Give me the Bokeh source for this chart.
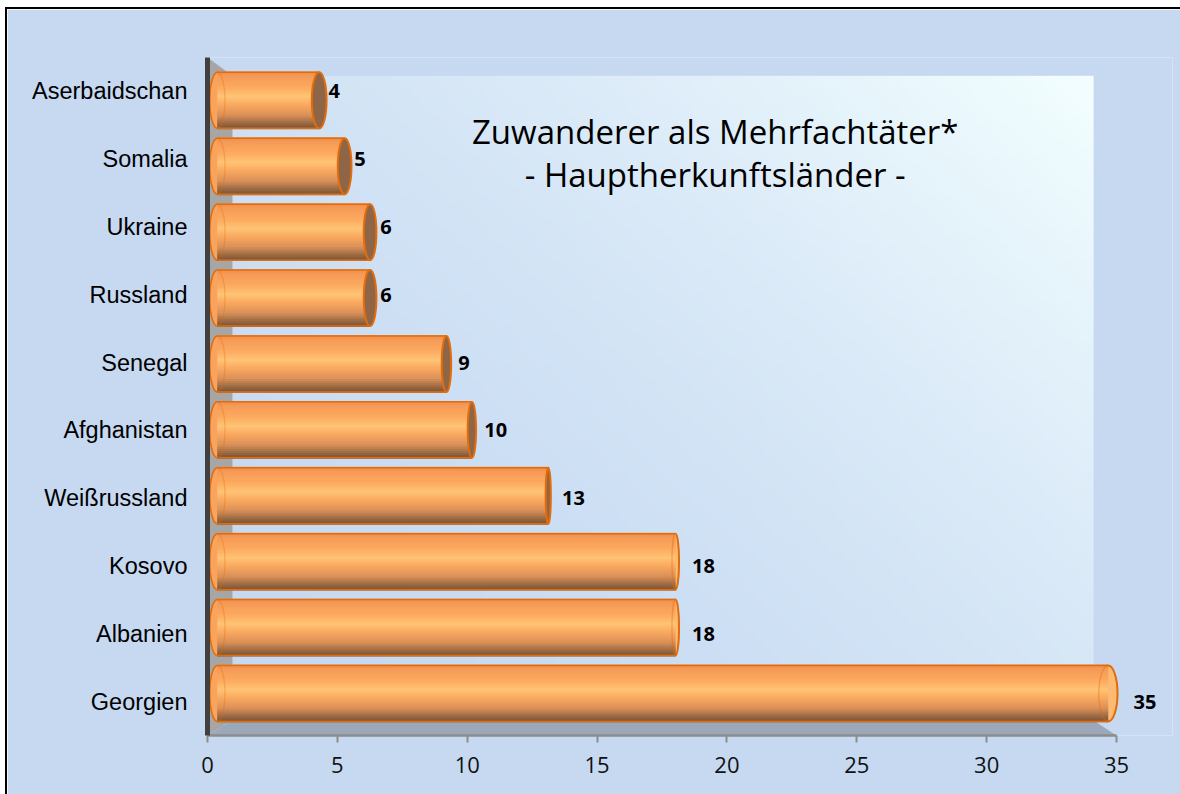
import numpy as np
from bokeh.plotting import figure
from bokeh.models import ColumnDataSource, Range1d, FixedTicker, Label
from bokeh.core.properties import value
from bokeh.embed import file_html
from bokeh.resources import INLINE

# ---------------- data ----------------
countries = ["Aserbaidschan", "Somalia", "Ukraine", "Russland", "Senegal",
             "Afghanistan", "Weißrussland", "Kosovo", "Albanien", "Georgien"]
counts = [4, 5, 6, 6, 9, 10, 13, 18, 18, 35]
x_ticks = [0, 5, 10, 15, 20, 25, 30, 35]
title_line1 = "Zuwanderer als Mehrfachtäter*"
title_line2 = "- Hauptherkunftsländer -"

# ---------------- layout constants ----------------
W, H = 1173, 785
LEFT, TOP = 200, 48
FRAME_H = 678
X_MAX = 35
PX = 25.971                       # pixels per x unit
FRAME_W = W - LEFT - 8
X_END = FRAME_W / PX
N = len(countries)

# 3D depth offsets (perspective of the bars / walls)
BAR_X0, BAR_XS = 0.38, 0.98
BAR_Y0, BAR_YS = 0.62, 0.972
BAR_H = 0.826
WALL_DX, WALL_DY = 0.96, 0.22
WALL_TOP = N - 0.27
VP = 15.13                        # vanishing point (x units)

BG = "#C6D9F1"
ORANGE = "#E46C0A"

p = figure(frame_width=FRAME_W, frame_height=FRAME_H,
           min_border_left=LEFT, min_border_right=8, min_border_top=TOP,
           min_border_bottom=H - TOP - FRAME_H,
           x_range=Range1d(0, X_END), y_range=Range1d(0, N),
           output_backend="svg", toolbar_location=None,
           background_fill_color=BG, border_fill_color=BG,
           outline_line_color=None)
p.styles = {"border-top": "2px solid #000", "border-left": "2px solid #000",
            "margin-left": "5px", "margin-top": "7px"}
p.xgrid.visible = False
p.ygrid.visible = False

# ---------------- back wall gradient ----------------
gw, gh = 120, 80
u = np.linspace(0, 1, gw)[None, :]
v = np.linspace(0, 1, gh)[:, None]
t = np.clip((u * 0.55 + v * 0.45), 0, 1) ** 1.8
cA = np.array([0xC6, 0xD9, 0xF2], dtype=float)
cB = np.array([0xF3, 0xFF, 0xFF], dtype=float)
img = np.empty((gh, gw), dtype=np.uint32)
view = img.view(dtype=np.uint8).reshape((gh, gw, 4))
for k in range(3):
    view[:, :, k] = (cA[k] + (cB[k] - cA[k]) * t).astype(np.uint8)
view[:, :, 3] = 255
p.image_rgba(image=[img], x=WALL_DX, y=WALL_DY, dw=X_MAX - 0.88 - WALL_DX,
             dh=WALL_TOP - WALL_DY)

# left wall and floor
p.patch([0, WALL_DX, WALL_DX, 0], [N, WALL_TOP, WALL_DY, 0],
        fill_color="#A6A6A6", line_color=None)
p.patch([0, X_MAX, X_MAX - 0.88, WALL_DX], [0, 0, WALL_DY, WALL_DY],
        fill_color="#9AA8BA", line_color=None)

# ---------------- bars (cylinders) ----------------
stops = [(0.0, "#EC8A46"), (0.08, "#F59A58"), (0.28, "#FCA95E"),
         (0.45, "#FFC476"), (0.6, "#F9A85E"), (0.78, "#DA9058"),
         (0.92, "#9C6B44"), (1.0, "#7E5838")]


def hex2rgb(h):
    return np.array([int(h[i:i + 2], 16) for i in (1, 3, 5)], dtype=float)


def grad(tt):
    for (t0, c0), (t1, c1) in zip(stops[:-1], stops[1:]):
        if t0 <= tt <= t1:
            f = (tt - t0) / (t1 - t0)
            c = hex2rgb(c0) + (hex2rgb(c1) - hex2rgb(c0)) * f
            return "#%02x%02x%02x" % tuple(int(round(x)) for x in c)
    return stops[-1][1]


idx = [N - 1 - k for k in range(N)]           # 0 = bottom
bar_y = [BAR_Y0 + i * BAR_YS for i in idx]
bar_x0 = [BAR_X0] * N
bar_x1 = [BAR_X0 + BAR_XS * c for c in counts]


def cap_convex(xb):
    return (5 + 0.027 * abs(xb - VP) * PX) / PX


def cap_face(xb):
    return (3 + 0.042 * abs(xb - VP) * PX) / PX


convex = [x > VP for x in bar_x1]
left_w = [cap_convex(x) for x in bar_x0]
right_w = [cap_convex(x) if c else cap_face(x) for x, c in zip(bar_x1, convex)]

# left convex ends (under the body)
p.ellipse(x=bar_x0, y=bar_y, width=left_w, height=BAR_H,
          fill_color="#F9A45E", line_color=ORANGE, line_width=1.5)
# right convex ends for bars beyond vanishing point
cx = [x for x, c in zip(bar_x1, convex) if c]
cy = [y for y, c in zip(bar_y, convex) if c]
cw = [w for w, c in zip(right_w, convex) if c]
p.ellipse(x=cx, y=cy, width=cw, height=BAR_H,
          fill_color="#FDBA72", line_color=ORANGE, line_width=2)

NS = 28
sy, sl, sr, sc = [], [], [], []
for y, a, b in zip(bar_y, bar_x0, bar_x1):
    for s in range(NS):
        tt = (s + 0.5) / NS
        sy.append(y + BAR_H / 2 - tt * BAR_H)
        sl.append(a)
        sr.append(b)
        sc.append(grad(tt))
p.hbar(y=sy, left=sl, right=sr, height=BAR_H / NS * 1.9,
       fill_color=sc, line_color=None)

# top / bottom rims
p.segment(x0=bar_x0, x1=bar_x1, y0=[y + BAR_H / 2 for y in bar_y],
          y1=[y + BAR_H / 2 for y in bar_y], line_color=ORANGE, line_width=1.5)
p.segment(x0=bar_x0, x1=bar_x1, y0=[y - BAR_H / 2 for y in bar_y],
          y1=[y - BAR_H / 2 for y in bar_y], line_color=ORANGE, line_width=1.5)

# faint inner rims
p.ellipse(x=bar_x0, y=bar_y, width=left_w, height=BAR_H,
          fill_color=None, line_color=ORANGE, line_alpha=0.35, line_width=1.2)
p.ellipse(x=cx, y=cy, width=cw, height=BAR_H,
          fill_color=None, line_color=ORANGE, line_alpha=0.45, line_width=1.2)

# visible end faces for bars before the vanishing point
fx = [x for x, c in zip(bar_x1, convex) if not c]
fy = [y for y, c in zip(bar_y, convex) if not c]
fw = [w for w, c in zip(right_w, convex) if not c]
p.ellipse(x=fx, y=fy, width=fw, height=BAR_H,
          fill_color="#8E6647", line_color=ORANGE, line_width=2)

# ---------------- value labels ----------------
lab = ColumnDataSource(dict(x=counts, y=[i + 0.5 for i in idx],
                            t=[str(c) for c in counts]))
p.text(x="x", y="y", text="t", source=lab, x_offset=17,
       text_align="left", text_baseline="middle",
       text_font=value("Open Sans"), text_font_style="bold",
       text_font_size="20px", text_color="#000000")

# ---------------- title ----------------
for txt, yy in ((title_line1, 8.91), (title_line2, 8.27)):
    p.add_layout(Label(x=19.55, y=yy, text=txt, text_align="center",
                       text_baseline="middle", text_font="Open Sans",
                       text_font_size="33px", text_color="#000000"))

# ---------------- axes ----------------
xa = p.xaxis[0]
xa.ticker = FixedTicker(ticks=x_ticks)
xa.bounds = (0, X_MAX)
xa.axis_line_color = "#8C8C8C"
xa.axis_line_width = 2.5
xa.major_tick_line_color = "#8C8C8C"
xa.major_tick_line_width = 2
xa.major_tick_out = 7
xa.major_tick_in = 0
xa.minor_tick_line_color = None
xa.major_label_standoff = 14
xa.major_label_text_font = "Open Sans"
xa.major_label_text_font_size = "22px"
xa.major_label_text_color = "#111111"

ya = p.yaxis[0]
ya.ticker = FixedTicker(ticks=[i + 0.5 for i in range(N)])
ya.major_label_overrides = {i + 0.5: countries[N - 1 - i] for i in range(N)}
ya.bounds = (0, N)
ya.axis_line_color = "#404040"
ya.axis_line_width = 5
ya.major_tick_line_color = None
ya.minor_tick_line_color = None
ya.major_label_standoff = 14
ya.major_label_text_font = "Liberation Sans"
ya.major_label_text_font_size = "23.5px"
ya.major_label_text_color = "#000000"

open("out.html", "w").write(file_html(p, INLINE))
